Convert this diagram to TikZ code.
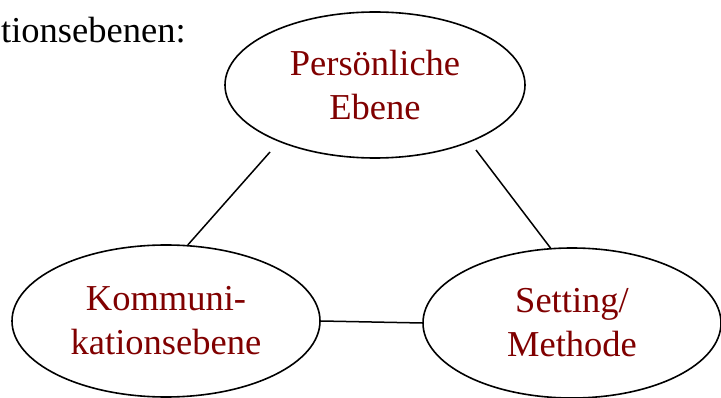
\documentclass[tikz,border=0pt]{standalone}
\usepackage{fontspec}
\setmainfont{Liberation Serif}
\usetikzlibrary{shapes.geometric}
\definecolor{ebenerot}{HTML}{800000}
\begin{document}
\begin{tikzpicture}[x=1pt,y=-1pt,
  level/.style={ellipse,draw,line width=1.6pt,inner sep=0pt,align=center,
    text=ebenerot,font=\fontsize{36.5}{44}\selectfont},
  link/.style={line width=1.5pt}]
  \useasboundingbox (0,0) rectangle (721,398);
  \node[anchor=base west,inner sep=0pt,font=\fontsize{36.5}{44}\selectfont] (title) at (1,43) {tionsebenen:};
  \node[level,minimum width=300pt,minimum height=146pt] (pers) at (375,85) {Persönliche\\Ebene};
  \node[level,minimum width=308pt,minimum height=152pt] (komm) at (166,321) {Kommuni-\\kationsebene};
  \node[level,minimum width=298pt,minimum height=150pt] (sett) at (572,323) {Setting/\\Methode};
  \coordinate (persL) at (270,152);
  \coordinate (persR) at (476,150);
  \draw[link] (komm.74) -- (persL);
  \draw[link] (sett.106) -- (persR);
  \draw[link] (komm.east) -- (sett.west);
\end{tikzpicture}
\end{document}
